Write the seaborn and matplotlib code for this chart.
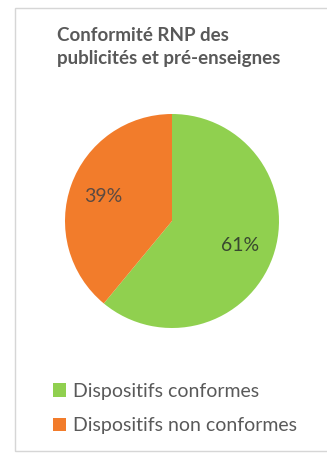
import matplotlib
matplotlib.use("Agg")
import matplotlib.pyplot as plt
from matplotlib.patches import Rectangle
import seaborn as sns

# Data
categories = ["Dispositifs conformes", "Dispositifs non conformes"]
shares = [61, 39]
colors = ["#90d04f", "#f27c2b"]
label_colors = ["#38482f", "#5b4a42"]
title = "Conformité RNP des\npublicités et pré-enseignes"

sns.set_theme(style="white")
plt.rcParams["font.family"] = ["Lato", "DejaVu Sans"]

W, H = 327, 455
fig = plt.figure(figsize=(W / 100, H / 100), dpi=100)
fig.patch.set_facecolor("white")

# card frame
fig.patches.append(Rectangle((15 / W, 4 / H), 1.2, 443 / H,
                             transform=fig.transFigure, facecolor="none",
                             edgecolor="#d6d6d6", linewidth=1.0, zorder=-1))

# pie
cx, cy, r = 172, H - 221, 107
ax = fig.add_axes([(cx - r) / W, (cy - r) / H, 2 * r / W, 2 * r / H])
wedges, texts, autotexts = ax.pie(
    shares, colors=colors, startangle=90, counterclock=False,
    autopct="%d%%", pctdistance=0.68,
    wedgeprops=dict(linewidth=0),
    textprops=dict(fontsize=14))
for t, c in zip(autotexts, label_colors):
    t.set_color(c)
ax.set_xlim(-1, 1)
ax.set_ylim(-1, 1)
ax.set_aspect("equal")
ax.axis("off")

fig.text(57 / W, (H - 27) / H, title, ha="left", va="top",
         fontsize=13.5, fontweight="bold", color="#595959", linespacing=1.4)

leg = fig.legend(wedges, categories, loc="upper left",
                 bbox_to_anchor=(45 / W, (H - 375) / H), frameon=False,
                 fontsize=14, labelcolor="#595959", handlelength=0.7,
                 handleheight=0.7, handletextpad=0.35, labelspacing=0.9,
                 borderaxespad=0)

fig.savefig("out.png", dpi=100)
